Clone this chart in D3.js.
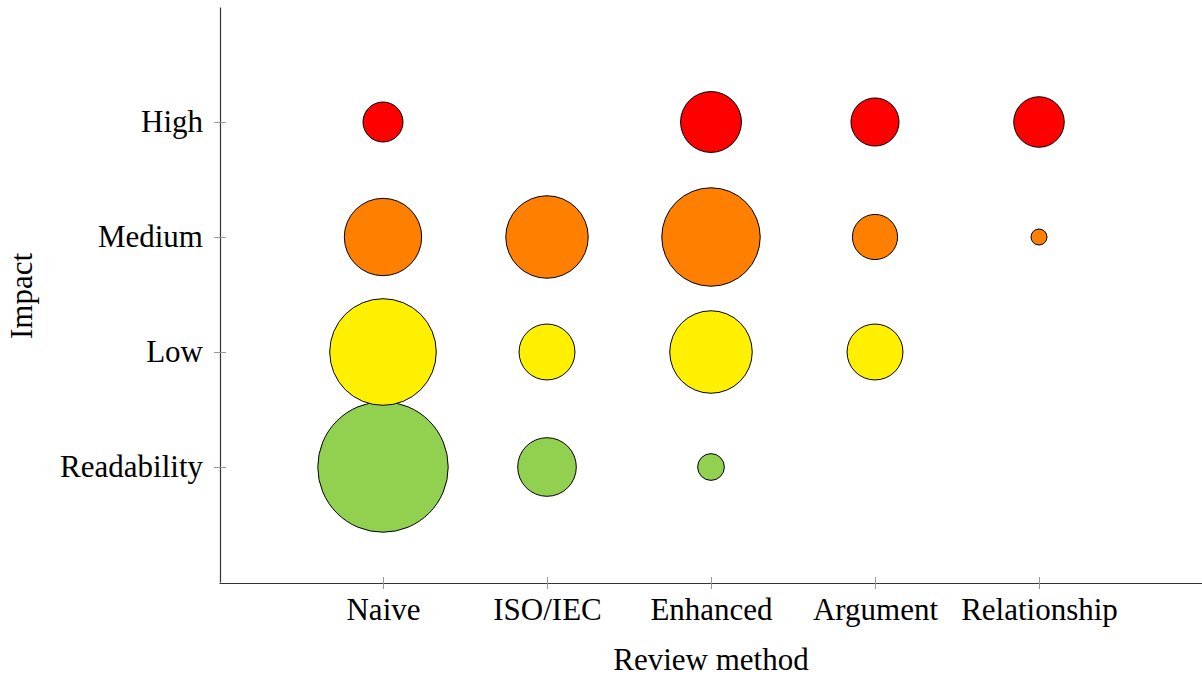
<!DOCTYPE html>
<html>
<head>
<meta charset="utf-8">
<script src="https://cdn.jsdelivr.net/npm/d3@7"></script>
<style>
  body { margin: 0; background: #fff; }
  text { font-family: "Liberation Serif", "DejaVu Serif", serif; fill: #000; }
</style>
</head>
<body>
<div id="chart"></div>
<script>
// categories
var methods = ["Naive", "ISO/IEC", "Enhanced", "Argument", "Relationship"];
var impacts = ["Readability", "Low", "Medium", "High"];

// estimated bubble sizes per impact level (one value per method, null = no bubble)
var highValues        = [4.7, null, 10.9, 6.8, 7.5];
var mediumValues      = [17.6, 20, 28.5, 6, 0.75];
var lowValues         = [33.4, 9.2, 20, 9.2, null];
var readabilityValues = [50, 10.1, 2.1, null, null];

var impactColors = ["#92d050", "#fff000", "#ff8000", "#ff0000"];

var width = 1202, height = 678;
var margin = { left: 219, right: 2, top: 8, bottom: 95 };
var fontSize = "31px";

function translate(x, y){
    return "translate(" + x + "," + y + ")";
}

var rows = [readabilityValues, lowValues, mediumValues, highValues];
var data = [];
rows.forEach(function(vals, j){
    vals.forEach(function(v, i){
        if (v != null) data.push({ method: i, impact: j, value: v });
    });
});

var xScale = d3.scaleLinear()
    .domain([0, methods.length + 1])
    .range([margin.left, 1203]);

var yScale = d3.scaleLinear()
    .domain([0, impacts.length + 1])
    .range([582, 7]);

var rScale = d3.scaleSqrt()
    .domain([0, 50])
    .range([0, 65.2]);

var svg = d3.select("#chart")
    .append("svg")
    .attr("width", width)
    .attr("height", height);

// bubbles, largest first so small ones stay on top
svg.selectAll(".bubble")
    .data(data.slice().sort(function(a, b){ return b.value - a.value; }))
    .enter()
    .append("circle")
    .attr("class", "bubble")
    .attr("cx", function(d){ return xScale(d.method + 1); })
    .attr("cy", function(d){ return yScale(d.impact + 1); })
    .attr("r", function(d){ return rScale(d.value); })
    .style("fill", function(d){ return impactColors[d.impact]; })
    .style("stroke", "#000")
    .style("stroke-width", 1);

// x axis
var xAxis = d3.axisBottom(xScale)
    .tickValues(d3.range(1, methods.length + 1))
    .tickFormat(function(d){ return methods[d - 1]; })
    .tickSize(0)
    .tickPadding(15);

var gx = svg.append("g")
    .attr("transform", translate(0, 583))
    .call(xAxis);
gx.select(".domain").attr("stroke", "#333").attr("stroke-width", 1.2);
gx.selectAll(".tick").append("line")
    .attr("y1", -6).attr("y2", 6)
    .attr("stroke", "#999").attr("stroke-width", 1);
gx.selectAll(".tick text")
    .style("font-size", fontSize);

// y axis
var yAxis = d3.axisLeft(yScale)
    .tickValues(d3.range(1, impacts.length + 1))
    .tickFormat(function(d){ return impacts[d - 1]; })
    .tickSize(0)
    .tickPadding(17);

var gy = svg.append("g")
    .attr("transform", translate(220, 0))
    .call(yAxis);
gy.select(".domain").attr("stroke", "#333").attr("stroke-width", 1.2);
gy.selectAll(".tick").append("line")
    .attr("x1", -6).attr("x2", 6)
    .attr("stroke", "#999").attr("stroke-width", 1);
gy.selectAll(".tick text")
    .style("font-size", fontSize);

// axis titles
svg.append("text")
    .attr("x", 711)
    .attr("y", 670)
    .attr("text-anchor", "middle")
    .style("font-size", fontSize)
    .text("Review method");

svg.append("text")
    .attr("transform", translate(32, 296) + " rotate(-90)")
    .attr("text-anchor", "middle")
    .style("font-size", fontSize)
    .text("Impact");
</script>
</body>
</html>
